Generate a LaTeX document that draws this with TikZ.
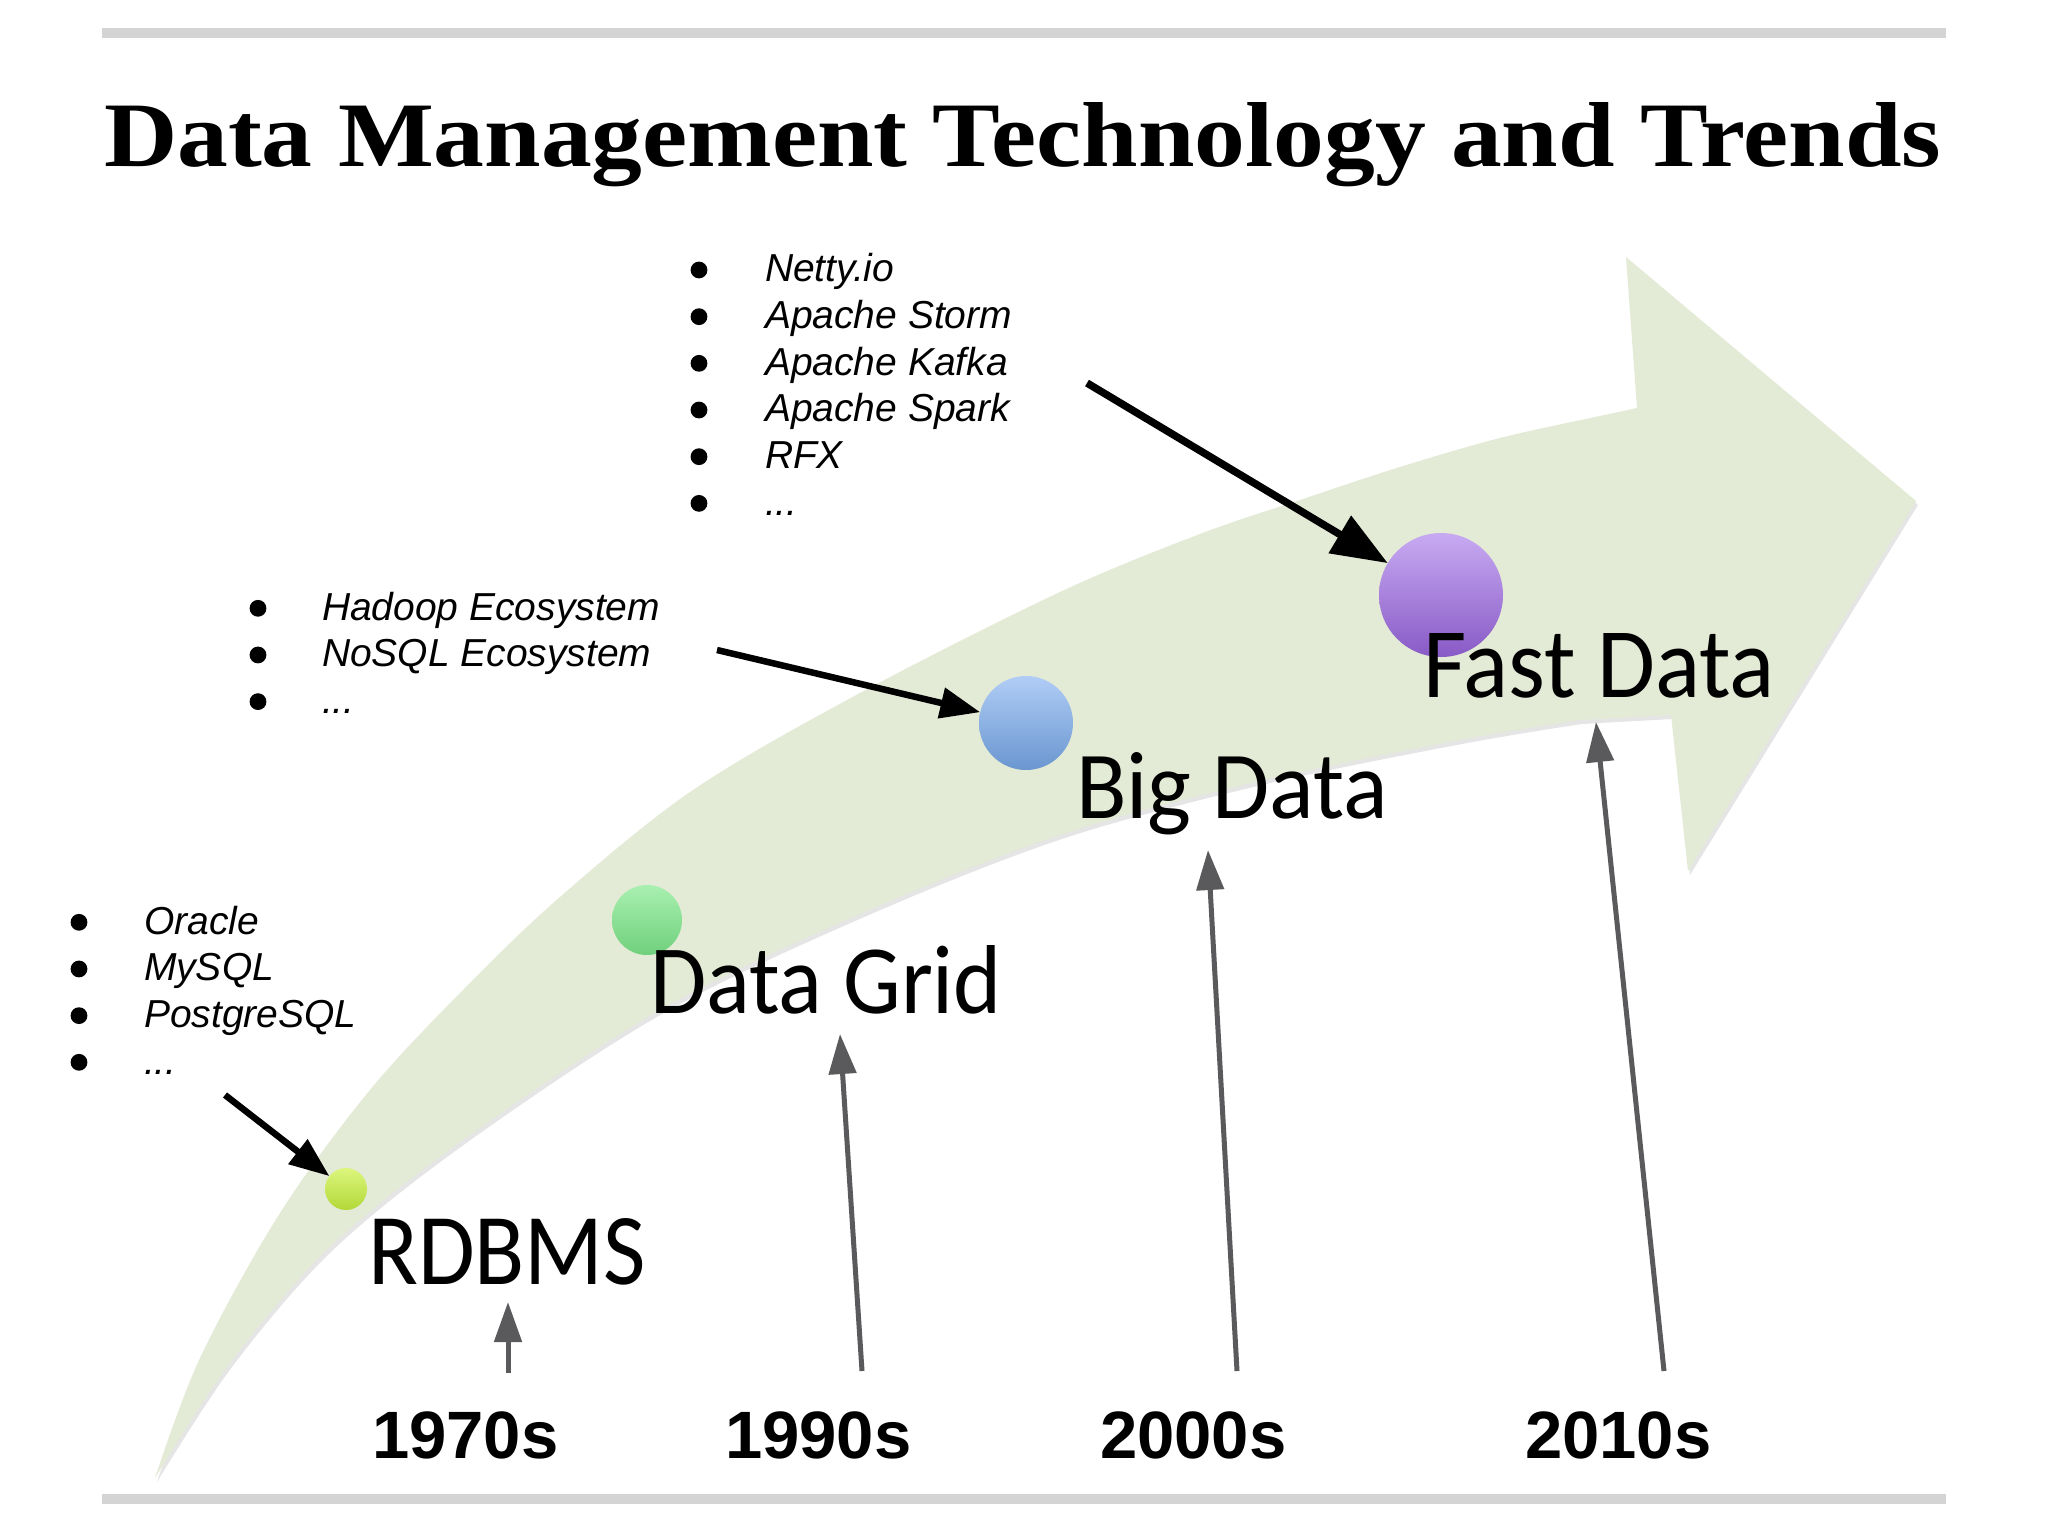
\documentclass[tikz,border=0pt]{standalone}
\usepackage{fontspec}
\usepackage{graphicx}
\setmainfont{Liberation Sans}
\newfontfamily\titlefont{Liberation Serif}
\newfontfamily\calfont{Carlito}
\usetikzlibrary{arrows.meta}

\definecolor{bandc}{RGB}{227,234,213}
\definecolor{rulec}{RGB}{212,212,212}
\definecolor{garrow}{RGB}{90,90,92}

\newcommand\mydots{.\kern0pt.\kern0pt.}

\newcommand\bandpath{plot[smooth,tension=0.55] coordinates {(155,1478) (200,1358) (280,1213) (370,1090) (463,990) (560,897) (693,790) (860,693) (1060,592) (1200,534) (1300,500) (1400,467) (1500,438) (1600,416) (1637,408)}
 -- (1626,257) -- (1916,501) -- (1688,871) -- (1671,715)
 -- plot[smooth,tension=0.55] coordinates {(1580,720) (1460,740) (1260,781) (1060,835) (860,914) (660,1010) (463,1140) (330,1247) (230,1363) (155,1478)} -- cycle}

\begin{document}
\begin{tikzpicture}[x=1pt,y=-1pt,
  txt/.style={inner sep=0pt, outer sep=0pt, anchor=base west},
  listitem/.style={txt, font=\fontsize{39}{47}\selectfont\itshape},
  yearlbl/.style={txt, font=\fontsize{67}{70}\selectfont\bfseries},
  blk/.style={line width=6.5pt, -{Triangle[length=40pt,width=30pt]}},
  gry/.style={draw=garrow, line width=5pt, -{Triangle[length=40pt,width=27pt]}},
  dotnode/.style={circle, inner sep=0pt, outer sep=0pt},
  bul/.style={fill=black},
]
\useasboundingbox (0,0) rectangle (2048,1536);
\fill[white] (0,0) rectangle (2048,1536);

% rules
\fill[rulec] (102,28) rectangle (1946,38);
\fill[rulec] (102,1494) rectangle (1946,1504);

% title
\node[txt] (title) at (104,166) {\resizebox{1837pt}{64pt}{\fontsize{100}{110}\selectfont\titlefont\bfseries Data Management Technology and Trends}};

% band arrow
\begin{scope}[shift={(2,4)}]
\fill[black, opacity=0.10] \bandpath;
\end{scope}
\fill[bandc] \bandpath;

% dots
\node[dotnode, minimum size=42pt, top color={rgb,255:red,220;green,246;blue,125}, bottom color={rgb,255:red,178;green,216;blue,56}] (d1) at (346,1189) {};
\node[dotnode, minimum size=70pt, top color={rgb,255:red,168;green,240;blue,176}, bottom color={rgb,255:red,112;green,208;blue,124}] (d2) at (647,920) {};
\node[dotnode, minimum size=94pt, top color={rgb,255:red,176;green,205;blue,246}, bottom color={rgb,255:red,106;green,150;blue,208}] (d3) at (1026,723) {};
\node[dotnode, minimum size=124pt, top color={rgb,255:red,200;green,170;blue,242}, bottom color={rgb,255:red,136;green,90;blue,198}] (d4) at (1441,595) {};

% stage labels
\node[txt] (l1) at (368,1284) {\resizebox{278pt}{66pt}{\fontsize{90}{100}\selectfont\calfont RDBMS}};
\node[txt] (l2) at (650,1013) {\resizebox{352pt}{68pt}{\fontsize{90}{100}\selectfont\calfont Data Grid}};
\node[txt] (l3) at (1076,818) {\resizebox{312pt}{66pt}{\fontsize{90}{100}\selectfont\calfont Big Data}};
\node[txt] (l4) at (1423,697) {\resizebox{352pt}{64pt}{\fontsize{90}{100}\selectfont\calfont Fast Data}};

% list A
\foreach \t [count=\i from 0] in {Netty.io,Apache Storm,Apache Kafka,Apache Spark,RFX,\mydots}{
  \fill[bul] (699,281.7+46.67*\i-11.7) circle[radius=8.4pt];
  \node[listitem] (a\i) at (765,281.7+46.67*\i) {\t};
}
% list B
\foreach \t [count=\i from 0] in {Hadoop Ecosystem,NoSQL Ecosystem,\mydots}{
  \fill[bul] (258,620+46.67*\i-11.7) circle[radius=8.4pt];
  \node[listitem] (b\i) at (322,620+46.67*\i) {\t};
}
% list C
\foreach \t [count=\i from 0] in {Oracle,MySQL,PostgreSQL,\mydots}{
  \fill[bul] (79,934+46.67*\i-11.7) circle[radius=8.4pt];
  \node[listitem] (c\i) at (144,934+46.67*\i) {\t};
}

% black arrows
\coordinate (sA) at (1087,383);
\coordinate (sB) at (717,650);
\coordinate (sC) at (225,1095);
\draw[line width=7.5pt, -{Triangle[length=56pt,width=42pt]}] (sA) -- (d4);
\draw[blk] (sB) -- (d3);
\draw[blk] (sC) -- (d1);

% years
\node[yearlbl] (y1) at (372,1458) {1970s};
\node[yearlbl] (y2) at (725,1458) {1990s};
\node[yearlbl] (y3) at (1100,1458) {2000s};
\node[yearlbl] (y4) at (1525,1458) {2010s};

% gray arrows
\coordinate (g1s) at (508,1373); \coordinate (g1e) at (508,1302);
\coordinate (g2s) at (862,1371); \coordinate (g2e) at (840,1034);
\coordinate (g3s) at (1237,1371); \coordinate (g3e) at (1208,850);
\coordinate (g4s) at (1664,1371); \coordinate (g4e) at (1596,722);
\draw[gry] (g1s) -- (g1e);
\draw[gry] (g2s) -- (g2e);
\draw[gry] (g3s) -- (g3e);
\draw[gry] (g4s) -- (g4e);
\end{tikzpicture}
\end{document}
